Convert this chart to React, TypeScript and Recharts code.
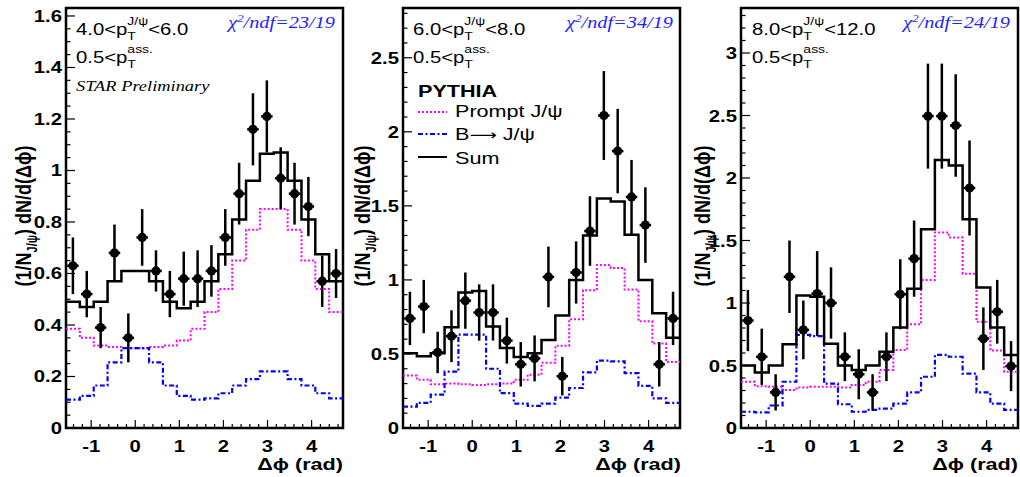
import React from 'react';
import { ComposedChart, Line, Scatter, XAxis, YAxis, ErrorBar, ReferenceArea } from 'recharts';

const X_MIN = -Math.PI / 2;
const X_MAX = (3 * Math.PI) / 2;

// bin edges / centres in delta-phi (rad), 20 bins over [-pi/2, 3pi/2]
const binEdges = [
  -1.571, -1.257, -0.942, -0.628, -0.314, 0, 0.314, 0.628, 0.942, 1.257, 1.571,
  1.885, 2.199, 2.513, 2.827, 3.142, 3.456, 3.77, 4.084, 4.398, 4.712,
];
const binCenters = [
  -1.414, -1.1, -0.785, -0.471, -0.157, 0.157, 0.471, 0.785, 1.1, 1.414, 1.728,
  2.042, 2.356, 2.67, 2.985, 3.299, 3.613, 3.927, 4.241, 4.555,
];
const X_ERR = 0.13;

// 4.0 < pT < 6.0
const sum1 = [0.49, 0.47, 0.49, 0.57, 0.61, 0.61, 0.57, 0.49, 0.465, 0.49, 0.57, 0.675, 0.81, 0.96, 1.065, 1.07, 0.96, 0.81, 0.675, 0.57];
const prompt1 = [0.385, 0.35, 0.32, 0.315, 0.31, 0.31, 0.315, 0.32, 0.34, 0.385, 0.45, 0.54, 0.65, 0.77, 0.85, 0.85, 0.77, 0.65, 0.54, 0.45];
const bDecay1 = [0.11, 0.125, 0.165, 0.255, 0.31, 0.31, 0.255, 0.165, 0.125, 0.11, 0.115, 0.135, 0.165, 0.19, 0.22, 0.22, 0.19, 0.165, 0.135, 0.115];
const star1 = [0.63, 0.52, 0.39, 0.68, 0.35, 0.74, 0.61, 0.52, 0.58, 0.58, 0.61, 0.74, 0.91, 1.16, 1.21, 0.97, 0.91, 0.86, 0.57, 0.6];
const starErr1 = [0.11, 0.09, 0.08, 0.11, 0.095, 0.11, 0.08, 0.09, 0.105, 0.11, 0.1, 0.11, 0.12, 0.14, 0.14, 0.12, 0.12, 0.115, 0.1, 0.095];

// 6.0 < pT < 8.0
const sum2 = [0.505, 0.485, 0.505, 0.68, 0.915, 0.925, 0.685, 0.54, 0.48, 0.505, 0.595, 0.76, 1.0, 1.3, 1.55, 1.53, 1.305, 1.0, 0.775, 0.61];
const prompt2 = [0.355, 0.325, 0.295, 0.3, 0.295, 0.29, 0.295, 0.3, 0.325, 0.36, 0.44, 0.555, 0.735, 0.93, 1.1, 1.08, 0.935, 0.72, 0.57, 0.445];
const bDecay2 = [0.145, 0.17, 0.225, 0.38, 0.63, 0.63, 0.4, 0.235, 0.165, 0.15, 0.165, 0.205, 0.27, 0.375, 0.455, 0.45, 0.37, 0.285, 0.2, 0.17];
const star2 = [0.74, 0.82, 0.51, 0.62, 0.86, 0.78, 0.78, 0.59, 0.43, 0.47, 1.02, 0.35, 1.05, 1.33, 2.11, 1.87, 1.56, 1.37, 0.43, 0.74];
const starErr2 = [0.18, 0.18, 0.14, 0.175, 0.19, 0.19, 0.19, 0.155, 0.15, 0.155, 0.205, 0.13, 0.21, 0.235, 0.3, 0.285, 0.25, 0.255, 0.15, 0.18];

// 8.0 < pT < 12.0
const sum3 = [0.5, 0.445, 0.5, 0.67, 1.06, 1.05, 0.675, 0.5, 0.465, 0.5, 0.61, 0.805, 1.115, 1.59, 2.145, 2.1, 1.67, 1.125, 0.805, 0.585];
const prompt3 = [0.37, 0.335, 0.33, 0.305, 0.325, 0.33, 0.33, 0.325, 0.345, 0.37, 0.465, 0.625, 0.83, 1.185, 1.565, 1.525, 1.235, 0.85, 0.62, 0.45];
const bDecay3 = [0.13, 0.125, 0.18, 0.37, 0.745, 0.735, 0.355, 0.19, 0.13, 0.145, 0.155, 0.195, 0.285, 0.41, 0.585, 0.57, 0.435, 0.285, 0.195, 0.145];
const star3 = [0.86, 0.57, 0.285, 1.21, 0.785, 1.075, 1.0, 0.57, 0.43, 0.285, 0.57, 1.07, 1.355, 2.495, 2.495, 2.42, 1.92, 0.715, 0.93, 0.495];
const starErr3 = [0.245, 0.225, 0.145, 0.29, 0.235, 0.34, 0.285, 0.195, 0.2, 0.145, 0.195, 0.28, 0.305, 0.42, 0.42, 0.41, 0.38, 0.25, 0.255, 0.2];

// axis ticks
const xMajor = [-1, 0, 1, 2, 3, 4];
const yMajor1 = [0, 0.2, 0.4, 0.6, 0.8, 1, 1.2, 1.4, 1.6];
const yMajor2 = [0, 0.5, 1, 1.5, 2, 2.5];
const yMajor3 = [0, 0.5, 1, 1.5, 2, 2.5, 3];

const SANS = "'Liberation Sans', Arial, Helvetica, sans-serif";
const SERIF = "'Liberation Serif', 'Times New Roman', serif";
const SX = 1.27; // the original picture is stretched horizontally
const MAGENTA = '#ff00ff';
const BLUE = '#0000ff';
const DOT_DASH = '2 2';
const DASH_DOT = '5 2.5 2 2.5';

const minorTicks = (lo: number, hi: number, step: number) => {
  const out: number[] = [];
  for (let v = lo; v <= hi + 1e-9; v += step) out.push(Math.round(v * 1000) / 1000);
  return out;
};
const isMajor = (v: number, majors: number[]) => majors.some((m) => Math.abs(m - v) < 1e-6);
const fmt = (v: number) => String(Number(v.toFixed(2)));

const stepData = (vals: number[]) => binEdges.map((x, i) => ({ x, y: vals[Math.min(i, vals.length - 1)] }));
const pointData = (vals: number[], errs: number[]) =>
  binCenters.map((x, i) => ({ x, y: vals[i], ey: errs[i], ex: X_ERR }));

const leftTick = (majors: number[]) => (p: any) => {
  const v = p.payload.value;
  const major = isMajor(v, majors);
  return (
    <g key={`l${v}`}>
      <line x1={p.x} x2={p.x + (major ? 9 : 4.5)} y1={p.y} y2={p.y} stroke="#000" strokeWidth={1.2} />
      {major && (
        <text transform={`translate(${p.x - 4},${p.y + 6}) scale(${SX},1)`} textAnchor="end"
          fontFamily={SANS} fontWeight="bold" fontSize={16} fill="#000">{fmt(v)}</text>
      )}
    </g>
  );
};
const rightTick = (majors: number[]) => (p: any) => {
  const v = p.payload.value;
  const len = isMajor(v, majors) ? 9 : 4.5;
  return <line key={`r${v}`} x1={p.x} x2={p.x - len} y1={p.y} y2={p.y} stroke="#000" strokeWidth={1.2} />;
};
const bottomTick = (p: any) => {
  const v = p.payload.value;
  const major = isMajor(v, xMajor);
  return (
    <g key={`b${v}`}>
      <line x1={p.x} x2={p.x} y1={p.y} y2={p.y - (major ? 8 : 4)} stroke="#000" strokeWidth={1.2} />
      {major && (
        <text transform={`translate(${p.x},${p.y + 24}) scale(${SX},1)`} textAnchor="middle"
          fontFamily={SANS} fontWeight="bold" fontSize={16} fill="#000">{fmt(v)}</text>
      )}
    </g>
  );
};
const topTick = (p: any) => {
  const v = p.payload.value;
  const len = isMajor(v, xMajor) ? 8 : 4;
  return <line key={`t${v}`} x1={p.x} x2={p.x} y1={p.y} y2={p.y + len} stroke="#000" strokeWidth={1.2} />;
};

const Marker = (p: any) => <circle cx={p.cx} cy={p.cy} r={4.6} fill="#000" />;

const xTicks = minorTicks(-1.4, 4.6, 0.2);

type PanelProps = {
  left: number;
  width: number;
  rightMargin: number;
  yMax: number;
  yMajors: number[];
  yMinorStep: number;
  sum: number[];
  prompt: number[];
  bDecay: number[];
  star: number[];
  starErr: number[];
};

function Panel({ left, width, rightMargin, yMax, yMajors, yMinorStep, sum, prompt, bDecay, star, starErr }: PanelProps) {
  const yTicks = minorTicks(0, yMax, yMinorStep);
  return (
    <div style={{ position: 'absolute', left, top: 0 }}>
      <ComposedChart width={width} height={477} margin={{ top: 8, right: rightMargin, bottom: 0, left: 0 }}>
        <XAxis xAxisId="b" dataKey="x" type="number" domain={[X_MIN, X_MAX]} allowDataOverflow
          ticks={xTicks} interval={0} tick={bottomTick} tickSize={0} tickMargin={0} tickLine={false}
          axisLine={false} height={49} />
        <XAxis xAxisId="t" dataKey="x" type="number" orientation="top" domain={[X_MIN, X_MAX]} allowDataOverflow
          ticks={xTicks} interval={0} tick={topTick} tickSize={0} tickMargin={0} tickLine={false}
          axisLine={false} height={0} />
        <YAxis yAxisId="l" type="number" domain={[0, yMax]} allowDataOverflow ticks={yTicks} interval={0}
          tick={leftTick(yMajors)} tickSize={0} tickMargin={0} tickLine={false} axisLine={false} width={66} />
        <YAxis yAxisId="r" orientation="right" type="number" domain={[0, yMax]} allowDataOverflow ticks={yTicks}
          interval={0} tick={rightTick(yMajors)} tickSize={0} tickMargin={0} tickLine={false} axisLine={false} width={0} />
        <ReferenceArea xAxisId="b" yAxisId="l" x1={X_MIN} x2={X_MAX} y1={0} y2={yMax} fill="none"
          fillOpacity={0} stroke="#000" strokeWidth={2.5} ifOverflow="visible" />
        <Line xAxisId="b" yAxisId="l" data={stepData(prompt)} dataKey="y" type="stepAfter" stroke={MAGENTA}
          strokeWidth={2} strokeDasharray={DOT_DASH} dot={false} isAnimationActive={false} />
        <Line xAxisId="b" yAxisId="l" data={stepData(bDecay)} dataKey="y" type="stepAfter" stroke={BLUE}
          strokeWidth={2.2} strokeDasharray={DASH_DOT} dot={false} isAnimationActive={false} />
        <Line xAxisId="b" yAxisId="l" data={stepData(sum)} dataKey="y" type="stepAfter" stroke="#000"
          strokeWidth={2.5} dot={false} isAnimationActive={false} />
        <Scatter xAxisId="b" yAxisId="l" data={pointData(star, starErr)} dataKey="y" shape={Marker}
          isAnimationActive={false}>
          <ErrorBar dataKey="ey" direction="y" width={0} stroke="#000" strokeWidth={2.5} isAnimationActive={false} />
          <ErrorBar dataKey="ex" direction="x" width={0} stroke="#000" strokeWidth={2.5} isAnimationActive={false} />
        </Scatter>
      </ComposedChart>
    </div>
  );
}

function PtRange({ x, y, lo, sup, hi }: { x: number; y: number; lo: string; sup: string; hi?: string }) {
  return (
    <text transform={`translate(${x},${y}) scale(${SX},1)`} fontFamily={SANS} fontSize={16} fill="#000">
      {lo}
      <tspan dy={5} fontSize={11}>T</tspan>
      <tspan dx={-6.7} dy={-15} fontSize={11}>{sup}</tspan>
      {hi && <tspan dy={10} fontSize={16}>{hi}</tspan>}
    </text>
  );
}

function Chi2({ x, text }: { x: number; text: string }) {
  return (
    <text transform={`translate(${x},28) scale(${SX},1)`} textAnchor="end" fontFamily={SERIF}
      fontStyle="italic" fontSize={16} fill="#2222ff">
      χ<tspan dy={-6} fontSize={10}>2</tspan>
      <tspan dy={6}>{text}</tspan>
    </text>
  );
}

function YTitle({ x }: { x: number }) {
  return (
    <text transform={`translate(${x},216) rotate(-90) scale(1,${SX})`} textAnchor="middle" fontFamily={SANS}
      fontWeight="bold" fontSize={18} fill="#000">
      (1/N<tspan dy={5} fontSize={11}>J/ψ</tspan>
      <tspan dy={-5}>) dN/d(Δϕ)</tspan>
    </text>
  );
}

function XTitle({ x }: { x: number }) {
  return (
    <text transform={`translate(${x},470) scale(${SX},1)`} textAnchor="end" fontFamily={SANS}
      fontWeight="bold" fontSize={17} fill="#000">
      Δϕ (rad)
    </text>
  );
}

export default function App() {
  return (
    <div style={{ position: 'relative', width: 1020, height: 477, background: '#fff', overflow: 'hidden' }}>
      <style>{'body{margin:0}'}</style>
      <Panel left={0} width={346} rightMargin={3} yMax={1.631} yMajors={yMajor1} yMinorStep={0.05}
        sum={sum1} prompt={prompt1} bDecay={bDecay1} star={star1} starErr={starErr1} />
      <Panel left={337} width={346} rightMargin={3} yMax={2.836} yMajors={yMajor2} yMinorStep={0.1}
        sum={sum2} prompt={prompt2} bDecay={bDecay2} star={star2} starErr={starErr2} />
      <Panel left={675} width={345} rightMargin={2} yMax={3.36} yMajors={yMajor3} yMinorStep={0.1}
        sum={sum3} prompt={prompt3} bDecay={bDecay3} star={star3} starErr={starErr3} />

      <svg width={1020} height={477} style={{ position: 'absolute', left: 0, top: 0, pointerEvents: 'none' }}>
        <YTitle x={31} />
        <YTitle x={370} />
        <YTitle x={710} />
        <XTitle x={343} />
        <XTitle x={681} />
        <XTitle x={1018} />

        <PtRange x={76} y={35} lo="4.0<p" sup="J/ψ" hi="<6.0" />
        <PtRange x={76} y={63} lo="0.5<p" sup="ass." />
        <text transform={`translate(76,91) scale(${SX},1)`} fontFamily={SERIF} fontStyle="italic" fontSize={14.5}
          fill="#000">STAR Preliminary</text>
        <Chi2 x={335} text="/ndf=23/19" />

        <PtRange x={413} y={35} lo="6.0<p" sup="J/ψ" hi="<8.0" />
        <PtRange x={413} y={63} lo="0.5<p" sup="ass." />
        <Chi2 x={673} text="/ndf=34/19" />
        <text transform={`translate(418,97) scale(${SX},1)`} fontFamily={SANS} fontWeight="bold" fontSize={17}
          fill="#000">PYTHIA</text>
        <line x1={418} x2={447} y1={112} y2={112} stroke={MAGENTA} strokeWidth={2} strokeDasharray={DOT_DASH} />
        <text transform={`translate(455,117) scale(${SX},1)`} fontFamily={SANS} fontSize={17} fill="#000">Prompt J/ψ</text>
        <line x1={418} x2={447} y1={134} y2={134} stroke={BLUE} strokeWidth={2} strokeDasharray={DASH_DOT} />
        <text transform={`translate(455,140) scale(${SX},1)`} fontFamily={SANS} fontSize={17} fill="#000">
          B<tspan fontFamily="'DejaVu Sans', sans-serif" fontSize={15}>⟶</tspan> J/ψ
        </text>
        <line x1={418} x2={447} y1={157} y2={157} stroke="#000" strokeWidth={2} />
        <text transform={`translate(455,164) scale(${SX},1)`} fontFamily={SANS} fontSize={17} fill="#000">Sum</text>

        <PtRange x={752} y={35} lo="8.0<p" sup="J/ψ" hi="<12.0" />
        <PtRange x={752} y={63} lo="0.5<p" sup="ass." />
        <Chi2 x={1010} text="/ndf=24/19" />
      </svg>
    </div>
  );
}
